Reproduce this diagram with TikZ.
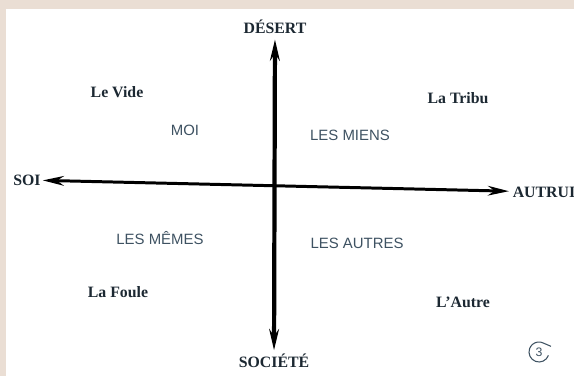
\documentclass[tikz,border=0pt]{standalone}
\usepackage{fontspec}
\setmainfont{Liberation Serif}
\setsansfont{Liberation Sans}
\usetikzlibrary{arrows.meta, positioning}
\definecolor{frame}{RGB}{234,222,212}
\definecolor{ink}{RGB}{28,40,50}
\definecolor{pencil}{RGB}{62,82,98}

\begin{document}
\begin{tikzpicture}[x=0.02cm, y=-0.02cm,
  pole/.style={font=\bfseries\fontsize{9}{10}\selectfont, text=ink, inner sep=2pt},
  place/.style={font=\bfseries\fontsize{9}{10}\selectfont, text=ink},
  zone/.style={font=\sffamily\fontsize{8.5}{10}\selectfont, text=pencil},
  axis/.style={{Stealth[length=12pt,width=5.5pt]}-{Stealth[length=12pt,width=5.5pt]}}]

  % frame
  \fill[frame] (0,0) rectangle (574,376);
  \fill[white] (6,9) rectangle (574,376);
  \useasboundingbox (0,0) rectangle (574,376);

  % poles
  \node[pole, inner sep=3pt] (desert) at (275,27) {DÉSERT};
  \node[pole] (societe) at (274,361) {SOCIÉTÉ};
  \node[pole, inner sep=1pt] (soi) at (27,180) {SOI};
  \node[pole] (autrui) at (544,192) {AUTRUI};

  % axes
  \draw[axis, line width=2.4pt] (desert) -- (societe);
  \draw[axis, line width=1.7pt] (soi) -- (autrui);

  % quadrants
  \node[place] (vide) at (117,92) {Le Vide};
  \node[place] (tribu) at (458,98) {La Tribu};
  \node[place] (foule) at (118,292) {La Foule};
  \node[place] (autre) at (463,302) {L'Autre};

  \node[zone] (moi) at (185,130) {MOI};
  \node[zone] (miens) at (350,135) {LES MIENS};
  \node[zone] (memes) at (160,238) {LES MÊMES};
  \node[zone] (autres) at (357,243) {LES AUTRES};

  % page number
  \node[zone, font=\sffamily\fontsize{7}{8}\selectfont] (three) at (539,352) {3};
  \draw[pencil, line width=0.6pt] ([shift={(9.4,3.4)}]three.center)
    arc[start angle=20, end angle=300, radius=10] -- ++(7,3);
\end{tikzpicture}
\end{document}
